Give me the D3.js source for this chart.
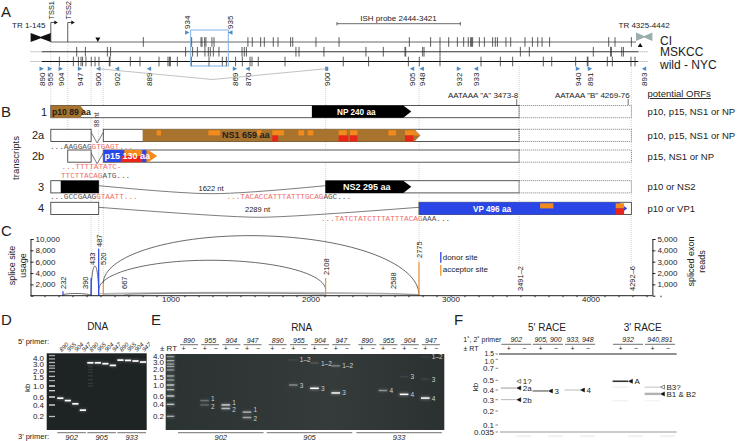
<!DOCTYPE html>
<html>
<head>
<meta charset="utf-8">
<script src="https://cdn.jsdelivr.net/npm/d3@7"></script>
<style>
body { margin: 0; background: #fff; }
svg { display: block; }
text { font-family: "Liberation Sans", Arial, sans-serif; fill: #222; }
.seq { font-family: "Liberation Mono", monospace; font-size: 7.7px; }
.it { font-style: italic; }
.domain, .tick line { stroke: #222; }
</style>
</head>
<body>
<svg id="fig" width="740" height="441"></svg>
<script>
// ---- panel A, variants (nt)
var ciVariants = [806, 1151, 1218, 1225, 1244, 1253, 1296, 1311, 1553, 1584, 1644, 1670, 1734, 1768, 1858, 1873, 2039, 2204,
  2706, 2858, 2925, 2987, 3049, 3094, 3127, 3144, 3151, 3158, 3206, 3242, 3301, 3320, 3335, 3396, 3430, 3532, 3585, 3623, 3654, 3708, 4130, 4175, 4292];
var mskccVariants = [330, 392, 549, 572, 1108, 1158, 1192, 1246, 1270, 1284, 1306, 1346, 1511, 1527, 1542, 1896, 1918, 2096, 2396,
  2520, 2675, 2680, 2801, 2811, 2925, 3499, 3563, 4020, 4144, 4149, 4223, 4235];
var wildVariants = [206, 306, 342, 361, 372, 396, 434, 461, 489, 563, 568, 713, 782, 918, 982, 992, 999, 1049, 1149, 1275, 1370, 1399, 1465, 1513, 1568, 1582, 1627, 1818, 2234, 2415,
  2699, 2777, 2925, 3218, 3356, 3444, 3663, 3723, 3894, 3977, 3982, 4120, 4156, 4289, 4318];
var strainNames = ["CI", "MSKCC", "wild - NYC"];

var primerNames = ["890", "955", "904", "947", "900", "902", "889", "869", "870", "900", "905", "948", "932", "933", "940", "891", "893"];
var primerSites = [80, 139, 216, 354, 484, 618, 846, 1461, 1551, 2116, 2725, 2794, 3061, 3182, 3911, 3996, 4382];
var primerStrand = [1, 1, 1, 1, -1, -1, -1, 1, -1, 0, -1, -1, 1, -1, 1, 1, -1];
var ishProbe = [2189, 3070];

// ---- panel B, transcripts (nt)
var transcriptNames = ["1", "2a", "2b", "3", "4"];
var transcriptExons = [[[145, 3491]], [[145, 433], [520, 3491]], [[266, 433], [520, 3491]], [[145, 487], [2108, 3491]], [[145, 487], [2775, 4292]]];
var transcriptPolyA = [[3491, 4292], [3491, 4292], [3491, 4292], [3491, 4292], null];
var orfLists = ["p10, p15, NS1 or NP", "p10, p15, NS1 or NP", "p15, NS1 or NP", "p10 or NS2", "p10 or VP1"];
var ns1Orange = [[901, 932], [1270, 1354], [1616, 1651], [1727, 1811], [1913, 1954], [1980, 2020], [2201, 2259], [2282, 2335], [2556, 2611], [2675, 2741]];
var ns1Red = [[1727, 1768], [2201, 2270], [2282, 2335], [2675, 2734]];
var vpOrange = [[3640, 3735], [4180, 4240]];
var vpRed = [[4180, 4240]];

// ---- panel C
var siteNames = ["232", "433", "487", "520", "2108", "2775"];
var siteKind = ["donor", "donor", "donor", "acceptor", "acceptor", "acceptor"];
var sitePos = [232, 433, 487, 520, 2108, 2775];
var siteUsage = [800, 3100, 8300, 2250, 3100, 6000];
var arcFrom = [232, 433, 520, 487, 487, 667, 520];
var arcTo = [433, 487, 2775, 2108, 2775, 2108, 2775];
var arcPeakAt = [320, 460, 1568, 1282, 1620, 1400, 1500];
var arcStart = [100, 0, 2190, 1000, 300, 120, 150];
var arcPeak = [390, 5240, 10590, 6250, 600, 480, 420];
var arcEnd = [0, 0, 100, 1000, 120, 120, 100];
var leftTicks = [2000, 4000, 6000, 8000, 10000];
var rightTicks = [1000, 2000, 3000, 4000, 5000];

// ---- panels D-F, gels (kb)
var ladderTicks = [0.2, 0.4, 0.6, 1.0, 1.5, 2.0, 3.0, 4.0];
var ladderKb = [4.4, 3.85, 3.25, 2.75, 2.4, 1.95, 1.55, 1.3, 1.0, 0.83, 0.6, 0.4, 0.2];
var ladderGlow = [.6, .6, .7, .6, .6, .6, .7, .6, 1, .8, 1, .9, .7];
var gelPrimers5 = ["890", "955", "904", "947"];
var dnaKb = [0.57, 0.51, 0.43, 0.31, 3.2, 3.2, 3.05, 2.8, 3.65, 3.6, 3.5, 3.33];
var dnaSmearKb = [2.6, 2.2, 1.9, 1.6, 1.35, 1.15, 1.0];
var rnaGroups = ["902", "905", "933"];
// group, primer, kb, brightness, label
var rnaBands = [
  [0, 1, 0.49, .25, "1"], [0, 1, 0.39, .2, "2"], [0, 2, 0.39, .7, "1"], [0, 2, 0.33, .6, "2"], [0, 3, 0.27, .55, "1"], [0, 3, 0.18, .5, "2"],
  [1, 1, 3.35, .05, "1\u20132"], [1, 1, 1.0, .35, "3"], [1, 2, 2.9, .12, "1\u20132"], [1, 2, 0.88, 1, "3"], [1, 3, 2.5, .3, "1\u20132"], [1, 3, 0.71, .95, "3"],
  [2, 1, 0.8, .4, "4"], [2, 2, 1.5, .06, "3"], [2, 2, 0.66, 1, "4"], [2, 3, 3.85, .04, "1\u20132"], [2, 3, 1.35, .06, "3"], [2, 3, 0.55, 1, "4"]
];
var raceTicks = [0.035, 0.1, 0.2, 0.3, 0.4, 0.5, 0.7, 1.0, 1.5];
var raceGroups = ["902", "905, 900", "933, 948", "932", "940,891"];
// group, kb, darkness, thickness
var raceBands = [[0, 0.42, .25, 1.6], [0, 0.3, .35, .8], [1, 0.39, .75, 1], [2, 0.4, .15, 1.8], [3, 0.49, .8, 1.6], [3, 0.43, .12, .7], [3, 0.29, .1, .8],
  [4, 0.43, .35, .7], [4, 0.36, .3, 2.4], [4, 0.29, .08, .8]];
// group, kb, label, open triangle
var raceMarks = [[0, 0.49, "1?", true], [0, 0.42, "2a", false], [0, 0.3, "2b", false], [1, 0.39, "3", false], [2, 0.4, "4", false], [3, 0.49, "A", false], [4, 0.43, "B3?", true], [4, 0.36, "B1 & B2", false]];

// ---- colours
var brown = "#a8732c", orange = "#f28a1c", red = "#ea2418", blue = "#2b46e6", primerBlue = "#4a8ac6", pink = "#ef6f6b";

var svg = d3.select("#fig");
var x = d3.scaleLinear().domain([0, 1000]).range([30.5, 170.5]);

var defs = svg.append("defs");
defs.append("filter").attr("id", "soft").attr("x", "-30%").attr("y", "-200%").attr("width", "160%").attr("height", "500%")
  .append("feGaussianBlur").attr("stdDeviation", "0.55");
defs.append("filter").attr("id", "glow").attr("x", "-40%").attr("y", "-300%").attr("width", "180%").attr("height", "700%")
  .append("feGaussianBlur").attr("stdDeviation", "1.5");
var grad = defs.append("linearGradient").attr("id", "gelE");
grad.append("stop").attr("offset", "0").attr("stop-color", "#2b3232");
grad.append("stop").attr("offset", ".6").attr("stop-color", "#343b3a");
grad.append("stop").attr("offset", "1").attr("stop-color", "#2a3130");

function label(sel, t, px, py, size, opt) {
  opt = opt || {};
  var n = sel.append("text").attr("font-size", size).text(t);
  if (opt.rot) n.attr("transform", "translate(" + px + "," + py + ") rotate(" + opt.rot + ")");
  else n.attr("x", px).attr("y", py);
  if (opt.anchor) n.attr("text-anchor", opt.anchor);
  if (opt.cls) n.attr("class", opt.cls);
  if (opt.fill) n.style("fill", opt.fill);
  if (opt.bold) n.attr("font-weight", "bold");
  return n;
}

[["A", 1, 17], ["B", 1, 117], ["C", 1, 236], ["D", 1, 325], ["E", 151, 325], ["F", 454, 325]].forEach(function(d) {
  label(svg, d[0], d[1], d[2], 15);
});

// dotted guides, behind everything
var guides = [[145, 42, 105], [266, 42, 150], [433, 66, 296], [487, 130, 296], [520, 66, 296], [2108, 66, 270], [2775, 66, 296], [3491, 66, 265], [4292, 66, 265]];
svg.append("g").selectAll("line").data(guides).enter().append("line")
  .attr("x1", function(d) { return x(d[0]); }).attr("x2", function(d) { return x(d[0]); })
  .attr("y1", function(d) { return d[1]; }).attr("y2", function(d) { return d[2]; })
  .attr("stroke", "#bbb").attr("stroke-width", .6).attr("stroke-dasharray", "1,1");

// ------------------------------------------------ A
var A = svg.append("g");
var strainY = d3.scalePoint().domain(strainNames).range([42, 61.5]);
var strainVar = [ciVariants, mskccVariants, wildVariants];
strainNames.forEach(function(s, i) {
  var y = strainY(s);
  var from = i == 0 ? 145 : 80;
  A.append("line").attr("x1", x(from)).attr("x2", x(i == 0 ? 4325 : 4342)).attr("y1", y).attr("y2", y)
    .attr("stroke", ["#666", "#333", "#111"][i]).attr("stroke-width", 1);
  if (i > 0) {
    A.append("line").attr("x1", x(0)).attr("x2", x(80)).attr("y1", y).attr("y2", y).attr("stroke", "#999").attr("stroke-dasharray", "1,1");
    A.append("line").attr("x1", x(4342)).attr("x2", x(4410)).attr("y1", y).attr("y2", y).attr("stroke", "#999").attr("stroke-dasharray", "1,1");
  }
  A.selectAll(null).data(strainVar[i]).enter().append("line")
    .attr("x1", function(d) { return x(d); }).attr("x2", function(d) { return x(d); })
    .attr("y1", y - 4.8).attr("y2", y + 4.8)
    .attr("stroke", "#333").attr("stroke-width", .8);
  label(A, s, 660, [45, 56, 69][i], 12);
});
// terminal repeats
function bowtie(a, b, fill, y0, y1) {
  var m = (x(a) + x(b)) / 2, c = (y0 + y1) / 2;
  A.append("path").attr("fill", fill).attr("d",
    "M" + x(a) + "," + y0 + "L" + m + "," + (c - .8) + "L" + x(b) + "," + y0 + "V" + y1 + "L" + m + "," + (c + .8) + "L" + x(a) + "," + y1 + "Z");
}
bowtie(1, 145, "#111", 33, 42);
bowtie(4325, 4442, "#9aaead", 32.5, 41);
label(A, "TR 1-145", 12, 28, 8);
label(A, "TR 4325-4442", 618.5, 28, 8);
// TSS arrows
[[145, "TSS1"], [266, "TSS2"]].forEach(function(d) {
  var px = x(d[0]);
  A.append("path").attr("fill", "none").attr("stroke", "#333").attr("stroke-width", .8).attr("d", "M" + px + ",42V22.5H" + (px + 4));
  A.append("path").attr("fill", "#111").attr("d", "M" + (px + 3.5) + ",20.5L" + (px + 7) + ",22.5L" + (px + 3.5) + ",24.5Z");
  label(A, d[1], px + 3, 19.5, 7.4, { rot: -90 });
});
// triangles
A.append("path").attr("fill", "#111").attr("d", d3.line()([[x(481) - 2.5, 37.5], [x(481) + 2.5, 37.5], [x(481), 42]]) + "Z");
A.append("path").attr("fill", "#111").attr("d", d3.line()([[x(4355) - 2.5, 47], [x(4355) + 2.5, 47], [x(4355), 43]]) + "Z");
// ISH probe
A.append("path").attr("fill", "none").attr("stroke", "#444").attr("stroke-width", .8)
  .attr("d", "M" + x(ishProbe[0]) + ",22V25.5M" + x(ishProbe[0]) + ",23.7H" + x(ishProbe[1]) + "M" + x(ishProbe[1]) + ",22V25.5");
label(A, "ISH probe 2444-3421", 398.5, 21, 8, { anchor: "middle" });
// primer box
A.append("rect").attr("x", x(1144)).attr("y", 30).attr("width", x(1413) - x(1144)).attr("height", 36)
  .attr("fill", "none").attr("stroke", "#7fb2e5").attr("stroke-width", 1);
function primerTriangle(px, y, dir) {
  var d = dir == 0 ? [[px - 1.5, y - 2], [px + 1.5, y - 2], [px + 1.5, y + 2], [px - 1.5, y + 2]]
    : [[px - 2.2 * dir, y - 2.3], [px + 2.2 * dir, y], [px - 2.2 * dir, y + 2.3]];
  A.append("path").attr("fill", primerBlue).attr("d", d3.line()(d) + "Z");
}
primerNames.forEach(function(n, i) {
  primerTriangle(x(primerSites[i]), 68.8, primerStrand[i]);
  label(A, n, x(primerSites[i]) + 3, 86, 8, { rot: -90 });
});
primerTriangle(x(1120), 32.5, 1); label(A, "934", x(1120) + 3, 29, 8, { rot: -90 });
primerTriangle(x(1427), 32.5, -1); label(A, "935", x(1427) + 3, 29, 8, { rot: -90 });
A.append("path").attr("fill", "none").attr("stroke", "#999").attr("stroke-width", .6)
  .attr("d", d3.line()([[x(484), 68.7], [x(1300), 79.5], [x(2116), 68.7]]));
// polyA
label(A, "AATAAA \"A\" 3473-8", 448, 98, 8);
label(A, "AATAAA \"B\" 4269-76", 555, 98, 8);
A.append("line").attr("x1", x(3473)).attr("x2", x(3473)).attr("y1", 99).attr("y2", 105).attr("stroke", "#333").attr("stroke-width", .7);
A.append("line").attr("x1", x(4269)).attr("x2", x(4269)).attr("y1", 99).attr("y2", 105).attr("stroke", "#333").attr("stroke-width", .7);
label(A, "potential ORFs", 647.5, 97, 9.5).attr("text-decoration", "underline");

// ------------------------------------------------ B
var B = svg.append("g");
var rowTop = [105.5, 129.3, 150, 180.7, 202.3], rowH = 12.2;
var rowLabelX = [41, 32, 32, 38, 38];
label(B, "transcripts", 19, 158, 9.5, { rot: -90, anchor: "middle" });
transcriptNames.forEach(function(n, i) {
  var t = rowTop[i];
  label(B, n, rowLabelX[i], t + 10, 11);
  label(B, orfLists[i], 647.5, t + 9.5, 9.5);
  transcriptExons[i].forEach(function(e) {
    B.append("rect").attr("x", x(e[0])).attr("y", t).attr("width", x(e[1]) - x(e[0])).attr("height", rowH)
      .attr("fill", "#fff").attr("stroke", "#444").attr("stroke-width", .9);
  });
  if (transcriptPolyA[i]) {
    B.append("rect").attr("x", x(transcriptPolyA[i][0])).attr("y", t).attr("width", x(transcriptPolyA[i][1]) - x(transcriptPolyA[i][0])).attr("height", rowH)
      .attr("fill", "#fff").attr("stroke", "#444").attr("stroke-width", .7).attr("stroke-dasharray", "1,1");
  }
});
function orfArrow(a, b, tip, t, fill) {
  var pts = [[x(a), t], [x(b) - tip, t], [x(b), t + rowH / 2], [x(b) - tip, t + rowH], [x(a), t + rowH]];
  B.append("path").attr("fill", fill).attr("d", d3.line()(pts) + "Z");
}
function patches(list, t, half, fill) {
  B.selectAll(null).data(list).enter().append("rect")
    .attr("x", function(d) { return x(d[0]); }).attr("width", function(d) { return x(d[1]) - x(d[0]); })
    .attr("y", half ? t + rowH / 2 : t + 1).attr("height", half ? rowH / 2 : rowH / 2 - 1).attr("fill", fill);
}
// 1
orfArrow(145, 390, 5, rowTop[0], brown);
label(B, "p10 89 aa", 52, rowTop[0] + 9, 8.6, { bold: true });
orfArrow(2010, 2720, 8, rowTop[0], "#000");
label(B, "NP 240 aa", 337, rowTop[0] + 9, 8.2, { bold: true, fill: "#fff" });
// 2a
orfArrow(801, 2785, 6, rowTop[1], brown);
patches(ns1Orange, rowTop[1], false, orange);
patches(ns1Red, rowTop[1], true, red);
B.append("path").attr("fill", orange).attr("d", d3.line()([[x(2741), rowTop[1] + 1], [x(2785), rowTop[1] + rowH / 2], [x(2741), rowTop[1] + rowH / 2]]) + "Z");
label(B, "NS1 659 aa", 222, rowTop[1] + 9, 9, { bold: true });
label(B, "88 nt", 99, 127, 6.5, { rot: -90 });
[1, 2].forEach(function(i) {
  B.append("path").attr("fill", "none").attr("stroke", "#444").attr("stroke-width", .7)
    .attr("d", d3.line()([[x(433), rowTop[i] + 3], [x(476), rowTop[i] + rowH + 1.5], [x(520), rowTop[i] + 3]]));
});
// 2b
orfArrow(520, 905, 9, rowTop[2], orange);
B.append("rect").attr("x", x(520)).attr("y", rowTop[2]).attr("width", x(646) - x(520)).attr("height", rowH).attr("fill", blue);
B.append("rect").attr("x", x(646)).attr("y", rowTop[2] + 6).attr("width", x(800) - x(646)).attr("height", rowH / 2).attr("fill", red);
B.append("rect").attr("x", x(646)).attr("y", rowTop[2]).attr("width", x(670) - x(646)).attr("height", rowH / 2).attr("fill", blue);
B.append("rect").attr("x", x(798)).attr("y", rowTop[2]).attr("width", x(828) - x(798)).attr("height", rowH).attr("fill", blue);
label(B, "p15 130 aa", 104.5, rowTop[2] + 9, 9, { bold: true, fill: "#fff" });
// 3
orfArrow(216, 487, .01, rowTop[3], "#000");
orfArrow(2108, 2720, 8, rowTop[3], "#000");
label(B, "NS2 295 aa", 343, rowTop[3] + 9, 9, { bold: true, fill: "#fff" });
// 4
orfArrow(2775, 4262, 8, rowTop[4], blue);
patches(vpOrange, rowTop[4], false, orange);
patches(vpRed, rowTop[4], true, red);
label(B, "VP 496 aa", 492, rowTop[4] + 9.2, 8.2, { bold: true, fill: "#fff", anchor: "middle" });
// long introns
function intron(a, b, t, dy) {
  var p = d3.path(), x0 = x(a), x1 = x(b), m = (x0 + x1) / 2;
  p.moveTo(x0, t + 5);
  p.quadraticCurveTo(m - 30, t + 5 + dy, m, t + 5 + dy);
  p.quadraticCurveTo(m + 30, t + 5 + dy, x1, t + 5);
  B.append("path").attr("d", p.toString()).attr("fill", "none").attr("stroke", "#444").attr("stroke-width", .7);
}
intron(487, 2108, rowTop[3], 8);
intron(487, 2775, rowTop[4], 10);
label(B, "1622 nt", 211, 191, 7.5, { anchor: "middle" });
label(B, "2289 nt", 257.5, 212, 7.5, { anchor: "middle" });
// sequences
function seq(parts, px, py) {
  var t = B.append("text").attr("class", "seq").attr("x", px).attr("y", py);
  parts.forEach(function(s, i) { t.append("tspan").text(s).style("fill", i % 2 ? pink : "#555"); });
}
seq(["...AAGGAG", "GTGAGT..."], 50, 149);
seq(["", "...TTTTATATC-"], 61.5, 169);
seq(["", "TTCTTACAG", "ATG..."], 61, 177.5);
seq(["...GCCGAAG", "GTAATT..."], 50, 199);
seq(["", "...TACACCATTTATTTGCAG", "AGC..."], 226.5, 199);
seq(["", "...TATCTATCTTTATTTACAG", "AAA..."], 321, 221);

// ------------------------------------------------ C
var C = svg.append("g");
var base = 295.7;
var yL = d3.scaleLinear().domain([0, 10000]).range([base, 239]);
var yR = d3.scaleLinear().domain([0, 5000]).range([base, 239]);
var arcPaths = d3.range(arcFrom.length).map(function(i) {
  var x0 = x(arcFrom[i]), x1 = x(arcTo[i]), xp = x(arcPeakAt[i]);
  var y0 = yL(arcStart[i]), y1 = yL(arcEnd[i]), yp = yL(arcPeak[i]), k = .56;
  var p = d3.path();
  p.moveTo(x0, y0);
  p.bezierCurveTo(x0, y0 + (yp - y0) * k, xp - (xp - x0) * k, yp, xp, yp);
  p.bezierCurveTo(xp + (x1 - xp) * k, yp, x1, y1 + (yp - y1) * k, x1, y1);
  return p.toString();
});
C.selectAll(".arc").data(arcPaths).enter().append("path").attr("d", function(d) { return d; })
  .attr("fill", "none").attr("stroke", "#444").attr("stroke-width", .8)
  .attr("opacity", function(d, i) { return i < 4 ? 1 : .5; });
C.selectAll(".site").data(sitePos).enter().append("line")
  .attr("x1", function(d) { return x(d); }).attr("x2", function(d) { return x(d); })
  .attr("y1", base).attr("y2", function(d, i) { return yL(siteUsage[i]); })
  .attr("stroke", function(d, i) { return siteKind[i] == "donor" ? blue : "#ef9233"; }).attr("stroke-width", 1.2);
C.append("g").attr("transform", "translate(0," + base + ")").call(d3.axisBottom(x).tickValues(d3.range(0, 4501, 100)).tickSize(1.5).tickFormat(function(d) { return d % 1000 == 0 && d > 0 ? d : ""; }))
  .call(function(g) { g.select(".domain").attr("d", "M" + x(0) + ",0H" + x(4442)); g.selectAll("text").attr("font-size", 8).attr("dy", ".2em"); g.selectAll(".tick").filter(function(d) { return d == 0; }).remove(); });
C.append("g").attr("transform", "translate(" + x(0) + ",0)").call(d3.axisRight(yL).tickValues(leftTicks).tickSize(3).tickPadding(2).tickFormat(d3.format(",")))
  .call(function(g) { g.selectAll("text").attr("font-size", 8); });
C.append("g").attr("transform", "translate(" + x(4442) + ",0)").call(d3.axisRight(yR).tickValues(rightTicks).tickSize(3).tickPadding(2).tickFormat(d3.format(",")))
  .call(function(g) { g.selectAll("text").attr("font-size", 8); });
[["232", 63, 289], ["390", 85, 289], ["433", 91.5, 265], ["487", 99, 247], ["520", 103, 265], ["667", 124, 289], ["2108", 325.5, 275], ["2588", 393, 289], ["2775", 419, 258], ["3491\u20132", 519.5, 291], ["4292\u20136", 631.5, 291]].forEach(function(d) {
  label(C, d[0], d[1] + 3, d[2], 7.5, { rot: -90 });
});
label(C, "splice site", 14.5, 265.5, 9, { rot: -90, anchor: "middle" });
label(C, "usage", 25.5, 265.5, 9, { rot: -90, anchor: "middle" });
label(C, "spliced exon", 694, 261.5, 9, { rot: -90, anchor: "middle" });
label(C, "reads", 704.5, 261.5, 9, { rot: -90, anchor: "middle" });
C.append("line").attr("x1", 440.8).attr("x2", 440.8).attr("y1", 252).attr("y2", 262.7).attr("stroke", blue).attr("stroke-width", 1.3);
C.append("line").attr("x1", 440.8).attr("x2", 440.8).attr("y1", 265).attr("y2", 275.7).attr("stroke", "#ef9233").attr("stroke-width", 1.3);
label(C, "donor site", 442.7, 260, 8);
label(C, "acceptor site", 442.7, 272, 8);

// ------------------------------------------------ gels
function gelTicks(scale, values, lx, anchor, size) {
  values.forEach(function(v) {
    label(svg, d3.format(".1f")(v), lx, scale(v) + 2.8, size, { anchor: anchor });
  });
}
function band(g, px, w, y, h, b, filter) {
  g.append("rect").attr("x", px - w / 2).attr("y", y - h / 2).attr("width", w).attr("height", h)
    .attr("fill", "#fff").attr("opacity", b).attr("filter", "url(#" + filter + ")");
}

// D
var D = svg.append("g");
var yD = d3.scaleLinear().domain(ladderTicks).range([416.5, 405, 397, 386, 377, 371, 364, 358]);
D.append("rect").attr("x", 46.7).attr("y", 353.3).attr("width", 100).attr("height", 76.7).attr("fill", "#1e2323");
label(D, "DNA", 97.7, 330, 10, { anchor: "middle" });
label(D, "5' primer:", 18, 344, 7.5);
label(D, "3' primer:", 18, 439, 7.5);
label(D, "kb", 30, 387.7, 8, { rot: -90, anchor: "middle" });
gelTicks(yD, ladderTicks, 44, "end", 8);
var laneD = d3.scaleLinear().domain([0, 11]).range([60.3, 143]);
ladderKb.forEach(function(k, i) { band(D, 52, 6, yD(k), 1.3, ladderGlow[i], "soft"); });
dnaSmearKb.forEach(function(k) { band(D, laneD(4), 5, yD(k), 1, .12, "soft"); });
dnaKb.forEach(function(k, i) {
  band(D, laneD(i), 7, yD(k), 2.2, .3, "glow");
  band(D, laneD(i), 6.2, yD(k), 1.7, 1, "soft");
  label(D, gelPrimers5[i % 4], laneD(i) + 1.5, 352, 6, { rot: -45, cls: "it" });
});
rnaGroups.forEach(function(n, i) {
  var a = laneD(i * 4) - 3, b = laneD(i * 4 + 3) + 3;
  D.append("line").attr("x1", a).attr("x2", b).attr("y1", 432.7).attr("y2", 432.7).attr("stroke", "#333").attr("stroke-width", .7);
  label(D, n, (a + b) / 2, 440, 7.5, { anchor: "middle", cls: "it" });
});

// E
var E = svg.append("g");
var yE = d3.scaleLinear().domain(ladderTicks).range([416.3, 404.3, 396, 385, 376.7, 369.3, 362.3, 355.7]);
E.append("rect").attr("x", 165.7).attr("y", 354).attr("width", 278.6).attr("height", 76).attr("fill", "url(#gelE)");
gelTicks(yE, ladderTicks, 164, "end", 8);
label(E, "RNA", 301.7, 330.5, 10, { anchor: "middle" });
label(E, "\u00b1 RT", 160, 350.5, 8);
ladderKb.forEach(function(k, i) {
  band(E, 170.5, 8, yE(k), 2.5, ladderGlow[i] * .35, "glow");
  band(E, 170.5, 7.5, yE(k), 1.2, ladderGlow[i] * .8, "soft");
});
var groupStart = [189, 277.7, 367.3], primerStep = 21.2;
rnaGroups.forEach(function(n, g) {
  var a = groupStart[g] - 11, b = groupStart[g] + 3 * primerStep + 11;
  E.append("line").attr("x1", a).attr("x2", b).attr("y1", 432.7).attr("y2", 432.7).attr("stroke", "#333").attr("stroke-width", .7);
  label(E, n, (a + b) / 2, 439.5, 7.5, { anchor: "middle", cls: "it" });
  gelPrimers5.forEach(function(p, j) {
    var c = groupStart[g] + j * primerStep;
    E.append("line").attr("x1", c - 9).attr("x2", c + 9).attr("y1", 344.7).attr("y2", 344.7).attr("stroke", "#333").attr("stroke-width", .7);
    label(E, p, c, 342.5, 7, { anchor: "middle", cls: "it" });
    label(E, "+", c - 5.5, 351, 7, { anchor: "middle" });
    label(E, "\u2212", c + 5.5, 351, 7, { anchor: "middle" });
  });
});
rnaBands.forEach(function(d) {
  var c = groupStart[d[0]] + d[1] * primerStep - 5.6, y = yE(d[2]);
  band(E, c, 9.5, y, 2.4, d[3] * .4, "glow");
  band(E, c, 8.6, y, 1.5, d[3], "soft");
  // spread the 1 and 2 so they stay apart as in the print
  var dy = d[4] == "1" ? -2.2 : d[4] == "2" ? 1.2 : 0;
  label(E, d[4], c + 6.5, y + 2.5 + dy, 6.5, { fill: "#cfd3d2" });
});

// F
var F = svg.append("g");
var yF = d3.scaleLinear().domain(raceTicks).range([432, 425, 411, 399.7, 390, 380.3, 368.3, 359.3, 354]);
label(F, "5' RACE", 547, 331, 10, { anchor: "middle" });
label(F, "3' RACE", 642.7, 331, 10, { anchor: "middle" });
label(F, "1\u02da, 2\u02da primer", 463.3, 342, 7);
label(F, "\u00b1 RT", 463.5, 350.5, 7);
label(F, "kb", 478, 387, 8, { rot: -90, anchor: "middle" });
var raceCentre = [516.3, 548, 580, 628, 660];
F.append("line").attr("x1", 499).attr("x2", 676.7).attr("y1", yF(1.5)).attr("y2", yF(1.5)).attr("stroke", "#222").attr("stroke-width", 1);
F.append("line").attr("x1", 500).attr("x2", 676.7).attr("y1", yF(0.035)).attr("y2", yF(0.035)).attr("stroke", "#999").attr("stroke-width", 1.2);
raceTicks.forEach(function(v) {
  var dy = v == 1.5 ? 1.5 : v == 1.0 ? 4.2 : v == 0.035 ? 3.4 : 2.8;
  label(F, v == 0.035 ? "0.035" : d3.format(".1f")(v), 494, yF(v) + dy, v == 1.5 || v == 1.0 ? 6.8 : 8, { anchor: "end" });
  F.append("line").attr("x1", 495.5).attr("x2", 498).attr("y1", yF(v)).attr("y2", yF(v)).attr("stroke", "#555").attr("stroke-width", .7);
});
raceGroups.forEach(function(n, g) {
  var c = raceCentre[g];
  F.append("line").attr("x1", c - 15).attr("x2", c + 15).attr("y1", 344.3).attr("y2", 344.3).attr("stroke", "#333").attr("stroke-width", .7);
  label(F, n, c, 342, 7, { anchor: "middle", cls: "it" });
  label(F, "+", c - 7.5, 350.5, 7, { anchor: "middle" });
  label(F, "\u2212", c + 8, 350.5, 7, { anchor: "middle" });
  F.append("line").attr("x1", c - 0).attr("x2", c + 15).attr("y1", 436).attr("y2", 436).attr("stroke", "#ddd").attr("stroke-width", .8);
});
raceBands.forEach(function(d) {
  var c = raceCentre[d[0]] - 7.7;
  F.append("rect").attr("x", c - 7.7).attr("width", 15.4).attr("y", yF(d[1]) - d[3] / 2).attr("height", d[3])
    .attr("fill", "#000").attr("opacity", d[2]);
});
raceMarks.forEach(function(d) {
  var c = raceCentre[d[0]] + 2.5, y = yF(d[1]);
  F.append("path").attr("d", d3.line()([[c - 2, y], [c + 2, y - 2], [c + 2, y + 2]]) + "Z")
    .attr("fill", d[3] ? "#fff" : "#111").attr("stroke", "#111").attr("stroke-width", .5);
  label(F, d[2], c + 4, y + 2.8, 8);
});
</script>
</body>
</html>
